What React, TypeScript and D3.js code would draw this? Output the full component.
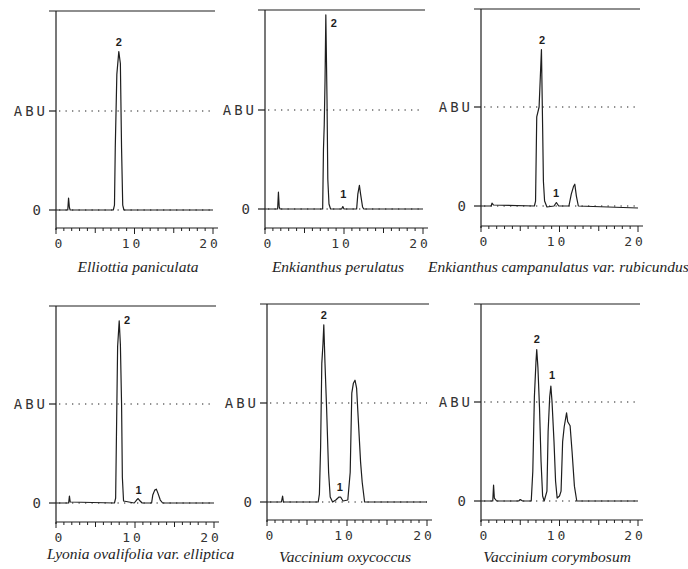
import React, { useRef, useEffect } from 'react';
import * as d3 from 'd3';

// species names, one per chromatogram
const speciesNames = [
    'Elliottia paniculata',
    'Enkianthus perulatus',
    'Enkianthus campanulatus var. rubicundus',
    'Lyonia ovalifolia var. elliptica',
    'Vaccinium oxycoccus',
    'Vaccinium corymbosum',
];

// traces: [retention time (min), abundance in ABU]
const traceElliottia = [
    [0, 0], [1.5, 0], [1.6, 0.12], [1.7, 0.03], [1.8, 0], [7.3, 0], [7.45, 0.05], [7.55, 0.63],
    [7.75, 1.37], [8.0, 1.6], [8.2, 1.48], [8.35, 0.63], [8.5, 0.05], [8.65, 0], [20, 0],
];
const traceEnkPerulatus = [
    [0, 0], [1.6, 0], [1.7, 0.17], [1.8, 0.02], [1.9, 0], [7.3, 0], [7.4, 0.6], [7.5, 0.85],
    [7.6, 1.3], [7.7, 1.96], [7.85, 1.1], [7.95, 0.3], [8.1, 0.05], [8.3, 0], [9.7, 0],
    [9.85, 0.025], [10.0, 0], [11.6, 0], [11.75, 0.15], [11.95, 0.24], [12.1, 0.15],
    [12.35, 0.02], [12.5, 0], [20, 0],
];
const traceEnkCampanulatus = [
    [0, 0], [1.3, 0], [1.4, 0.03], [1.6, 0.01], [6.8, 0], [6.95, 0.05], [7.1, 0.9], [7.4, 1.0],
    [7.7, 1.58], [7.85, 0.8], [7.95, 0.25], [8.1, 0.05], [8.4, -0.01], [9.3, 0], [9.6, 0.035],
    [9.9, 0], [11.2, 0], [11.5, 0.12], [11.8, 0.2], [11.95, 0.22], [12.15, 0.1], [12.4, 0],
    [20, -0.02],
];
const traceLyonia = [
    [0, 0], [1.6, 0], [1.7, 0.07], [1.8, 0.01], [7.4, 0], [7.55, 0.05], [7.65, 0.67], [7.8, 1.58],
    [8.0, 1.84], [8.15, 1.6], [8.3, 1.0], [8.4, 0.26], [8.55, 0.02], [9.9, 0], [10.2, 0.03],
    [10.4, 0.045], [10.65, 0.02], [10.9, 0], [12.1, 0], [12.25, 0.08], [12.5, 0.13], [12.7, 0.14],
    [12.9, 0.1], [13.2, 0.03], [13.5, 0], [20, 0],
];
const traceOxycoccus = [
    [0, 0], [1.8, 0], [1.95, 0.06], [2.05, 0], [6.4, 0], [6.55, 0.08], [6.7, 0.55], [6.85, 1.4],
    [7.0, 1.6], [7.1, 1.79], [7.25, 1.4], [7.45, 0.95], [7.7, 0.3], [7.9, 0.05], [8.2, 0],
    [8.6, 0.02], [9.0, 0.05], [9.2, 0.05], [9.5, 0.01], [10.1, 0.02], [10.4, 0.3], [10.6, 1.1],
    [10.8, 1.2], [11.0, 1.23], [11.2, 1.15], [11.4, 0.85], [11.7, 0.4], [11.9, 0.2], [12.2, 0],
    [20, 0],
];
const traceCorymbosum = [
    [0, 0], [1.5, 0], [1.6, 0.16], [1.7, 0.03], [2.0, 0], [4.8, 0], [5.0, 0.015], [5.3, 0],
    [6.4, 0], [6.6, 0.3], [6.8, 1.05], [7.0, 1.4], [7.1, 1.53], [7.25, 1.35], [7.45, 0.95],
    [7.65, 0.4], [7.85, 0.05], [8.05, 0], [8.4, 0.1], [8.55, 0.7], [8.75, 1.05], [8.9, 1.16],
    [9.05, 1.0], [9.3, 0.6], [9.5, 0.2], [9.7, 0.03], [10.0, 0.05], [10.2, 0.1], [10.4, 0.6],
    [10.6, 0.75], [10.9, 0.89], [11.05, 0.8], [11.35, 0.76], [11.6, 0.5], [11.9, 0.15],
    [12.2, 0], [20, 0],
];
const traces = [traceElliottia, traceEnkPerulatus, traceEnkCampanulatus, traceLyonia, traceOxycoccus, traceCorymbosum];

// peak labels: [time, abundance, label]
const peakLabels = [
    [[8.0, 1.7, '2']],
    [[8.7, 1.88, '2'], [9.9, 0.15, '1']],
    [[7.77, 1.68, '2'], [9.55, 0.13, '1']],
    [[9.0, 1.85, '2'], [10.45, 0.13, '1']],
    [[7.1, 1.89, '2'], [9.1, 0.15, '1']],
    [[7.1, 1.64, '2'], [9.05, 1.27, '1']],
];

const xTickLabels = ['0', '10', '20'];
const yTickLabels = ['0', 'ABU'];

// panel placement on the page
const panels = [
    { left: 56, right: 213, top: 11, zero: 210, axisY: 228, nameX: 138, nameY: 272, anchor: 'middle' },
    { left: 265, right: 423, top: 10, zero: 209, axisY: 228, nameX: 338, nameY: 272, anchor: 'middle' },
    { left: 481, right: 638, top: 9, zero: 206, axisY: 226, nameX: 428, nameY: 272, anchor: 'start' },
    { left: 56, right: 214, top: 306, zero: 503, axisY: 522, nameX: 47, nameY: 559, anchor: 'start' },
    { left: 267, right: 427, top: 304, zero: 502, axisY: 520, nameX: 345, nameY: 562, anchor: 'middle' },
    { left: 481, right: 638, top: 304, zero: 501, axisY: 520, nameX: 557, nameY: 562, anchor: 'middle' },
];

const ink = '#1e1e1e';
const mono = '"DejaVu Sans Mono", monospace';

const App = () => {
    const svgRef = useRef(null);

    useEffect(() => {
        const svg = d3.select(svgRef.current);
        svg.selectAll('*').remove();

        panels.forEach((p, i) => {
            const g = svg.append('g');
            const x = d3.scaleLinear().domain([0, 20]).range([p.left, p.right]);
            const y = d3.scaleLinear().domain([0, 1]).range([p.zero, p.zero - 99]);

            // frame: top rule, y axis, x axis
            g.append('line').attr('x1', p.left - 7).attr('x2', p.right + 2)
                .attr('y1', p.top).attr('y2', p.top)
                .attr('stroke', ink).attr('stroke-width', 1.2);
            g.append('line').attr('x1', p.left).attr('x2', p.left)
                .attr('y1', p.top).attr('y2', p.axisY + 2)
                .attr('stroke', ink).attr('stroke-width', 1.2);
            g.append('line').attr('x1', p.left).attr('x2', p.right + 5)
                .attr('y1', p.axisY).attr('y2', p.axisY)
                .attr('stroke', ink).attr('stroke-width', 1.2);

            // x ticks
            d3.range(0, 21).forEach(t => {
                const len = t % 10 === 0 ? 6 : t % 5 === 0 ? 5 : 3;
                g.append('line').attr('x1', x(t)).attr('x2', x(t))
                    .attr('y1', p.axisY).attr('y2', p.axisY + len)
                    .attr('stroke', ink).attr('stroke-width', 1);
            });
            const xOffsets = [4, -2, -3];
            xTickLabels.forEach((lab, k) => {
                g.append('text').attr('x', x(+lab) + xOffsets[k]).attr('y', p.axisY + 20)
                    .attr('text-anchor', 'middle')
                    .style('font-family', mono)
                    .style('font-size', '13px').style('letter-spacing', '3px')
                    .attr('fill', '#333').text(lab);
            });

            // y ticks at 0 and ABU
            yTickLabels.forEach((lab, k) => {
                const yy = y(k);
                g.append('line').attr('x1', p.left - 7).attr('x2', p.left)
                    .attr('y1', yy).attr('y2', yy)
                    .attr('stroke', ink).attr('stroke-width', 1.2);
                g.append('text').attr('x', k === 0 ? p.left - 12 : p.left - 8).attr('y', yy)
                    .attr('text-anchor', 'end').attr('dominant-baseline', 'central')
                    .style('font-family', mono)
                    .style('font-size', '14px').style('letter-spacing', '3px')
                    .attr('fill', '#333').text(lab);
                // dotted reference lines
                g.append('line').attr('x1', p.left + 3).attr('x2', x(20))
                    .attr('y1', yy).attr('y2', yy)
                    .attr('stroke', ink).attr('stroke-width', 1.2)
                    .attr('stroke-dasharray', '1.3,5.2');
            });

            // trace
            const line = d3.line().x(d => x(d[0])).y(d => y(d[1]));
            g.append('path').datum(traces[i])
                .attr('fill', 'none').attr('stroke', ink)
                .attr('stroke-width', 1.2).attr('stroke-linejoin', 'round')
                .attr('d', line);

            // peak labels
            peakLabels[i].forEach(([t, a, lab]) => {
                g.append('text').attr('x', x(t)).attr('y', y(a))
                    .attr('text-anchor', 'middle').attr('dominant-baseline', 'central')
                    .style('font-family', '"Liberation Sans", Arial, sans-serif')
                    .style('font-size', '11px').style('font-weight', 'bold')
                    .attr('fill', ink).text(lab);
            });

            // species name
            g.append('text').attr('x', p.nameX).attr('y', p.nameY)
                .attr('text-anchor', p.anchor)
                .style('font-family', '"Liberation Serif", "Times New Roman", serif')
                .style('font-size', '15.5px').style('font-style', 'italic')
                .attr('fill', ink).text(speciesNames[i]);
        });
    }, []);

    return (
        <svg ref={svgRef} width={688} height={569}
            style={{ position: 'absolute', left: 0, top: 0, background: '#fff' }} />
    );
};

export default App;
